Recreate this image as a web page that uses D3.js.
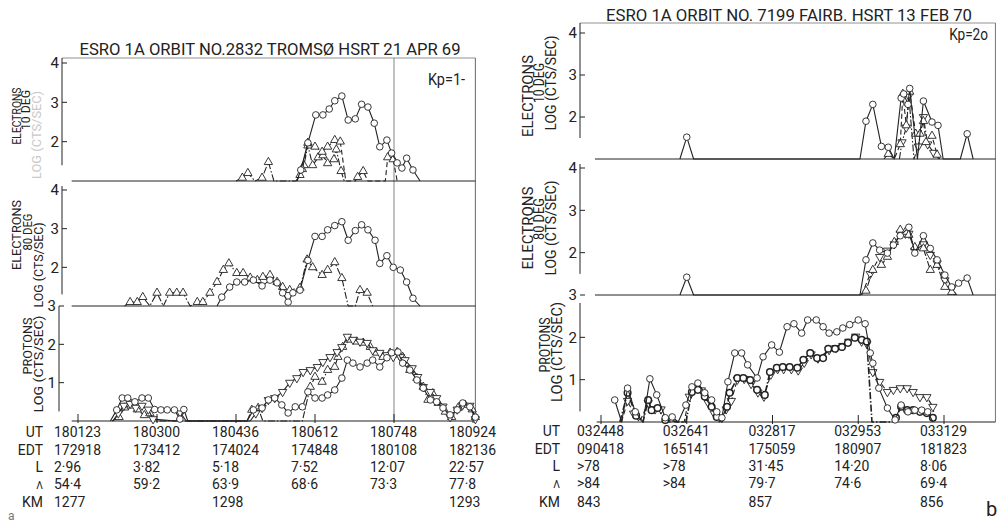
<!DOCTYPE html>
<html><head><meta charset="utf-8">
<script src="https://cdn.jsdelivr.net/npm/d3@7"></script>
<style>
body{margin:0;background:#fff}
svg{display:block}
text{font-family:Roboto,'DejaVu Sans',sans-serif;fill:#222}
</style></head>
<body><svg id="c" width="1002" height="525"></svg>
<script>
// ---------------- DATA (x in tick units along the UT axis, y in log10 counts/s) ----------------
// Panel a: ESRO 1A orbit 2832, Tromsø, 21 Apr 69
const utA  = ["180123","180300","180436","180612","180748","180924"];
const edtA = ["172918","173412","174024","174848","180108","182136"];
const lA   = ["2·96","3·82","5·18","7·52","12·07","22·57"];
const latA = ["54·4","59·2","63·9","68·6","73·3","77·8"];
const kmA  = ["1277","","1298","","","1293"];

const e10A_circ = [[2.77,1],[2.82,1.28],[2.91,1.97],[3.01,2.68],[3.10,2.68],[3.18,2.83],[3.25,3.04],[3.34,3.16],[3.42,2.55],[3.51,2.58],[3.59,2.95],[3.67,2.88],[3.75,2.47],[3.82,1.87],[3.91,2.04],[3.97,1.71],[4.04,1.46],[4.10,1.33],[4.16,1.58],[4.24,1.28],[4.33,1]];
const e10A_tri  = [[2.77,1],[2.84,1.3],[2.91,1.97],[3.00,1.87],[3.09,1.74],[3.16,1.87],[3.25,2.04],[3.32,2.0],[3.39,1],[3.51,1],[3.54,1.1],[3.61,1.25],[3.67,1],[3.89,1],[3.92,1.6],[3.99,1.55],[4.04,1]];
const e10A_dd   = [[2.00,1],[2.08,1.08],[2.15,1.2],[2.24,1],[2.33,1.08],[2.41,1.48],[2.48,1],[2.76,1],[2.81,1.15],[2.86,1.4],[2.91,1.9],[2.97,1.4],[3.04,1.6],[3.10,1.65],[3.16,1.45],[3.24,1.55],[3.27,1.8],[3.33,1.25],[3.37,1]];

const e80A_circ = [[1.76,1],[1.82,1.23],[1.92,1.49],[2.01,1.62],[2.11,1.62],[2.22,1.67],[2.33,1.52],[2.43,1.67],[2.52,1.6],[2.59,1.34],[2.66,1.1],[2.72,1.34],[2.81,1.41],[2.91,2.18],[3.00,2.8],[3.09,2.8],[3.16,2.97],[3.25,3.08],[3.34,3.18],[3.42,2.7],[3.51,2.95],[3.59,3.1],[3.67,2.97],[3.76,2.7],[3.82,2.1],[3.91,2.3],[3.99,2.0],[4.08,1.93],[4.16,1.62],[4.24,1.2],[4.33,1]];
const e80A_tri  = [[0.59,1],[0.66,1.1],[0.75,1.1],[0.82,1.23],[0.91,1],[1.00,1.34],[1.08,1],[1.16,1.34],[1.25,1.34],[1.33,1.34],[1.42,1],[1.51,1.1],[1.58,1.1],[1.67,1.34],[1.76,1.62],[1.84,1.93],[1.91,2.1],[2.01,1.85],[2.09,1.85],[2.18,1.73],[2.27,1.67],[2.34,1.75],[2.43,1.8],[2.52,1.62],[2.59,1.49],[2.68,1.41],[2.81,1.47],[2.90,2.2],[2.97,2.0],[3.09,1.8],[3.16,1.93],[3.25,2.13],[3.34,1.72],[3.42,1],[3.51,1],[3.57,1.41],[3.66,1.34],[3.73,1]];

const pA_circ = [[0.41,0],[0.49,0.29],[0.56,0.6],[0.63,0.6],[0.72,0.5],[0.81,0.6],[0.89,0.6],[0.97,0.3],[1.05,0.29],[1.13,0.29],[1.22,0.29],[1.29,0.05],[1.34,0.3],[1.39,0],[2.14,0],[2.22,0.29],[2.33,0.34],[2.41,0.55],[2.49,0.6],[2.58,0.42],[2.66,0.21],[2.75,0.37],[2.84,0.37],[2.91,0.76],[3.00,0.6],[3.09,0.6],[3.16,0.68],[3.25,0.81],[3.34,1.12],[3.41,1.59],[3.48,1.51],[3.57,1.41],[3.66,1.51],[3.73,1.59],[3.82,1.41],[3.91,1.65],[3.97,1.78],[4.05,1.8],[4.11,1.51],[4.20,1.33],[4.29,1.07],[4.37,0.86],[4.46,0.55],[4.54,0.5],[4.62,0.34],[4.71,0.16],[4.80,0.29],[4.87,0.47],[4.96,0.37],[5.03,0.1]];
const pA_inv  = [[0.44,0],[0.51,0.2],[0.58,0.4],[0.66,0.45],[0.73,0.35],[0.81,0.4],[0.89,0.3],[0.95,0.05],[1.24,0],[1.30,0.2],[1.37,0],[2.18,0],[2.25,0.2],[2.33,0.34],[2.41,0.55],[2.49,0.6],[2.59,0.76],[2.68,1.0],[2.77,1.12],[2.85,1.28],[2.94,1.33],[3.03,1.41],[3.10,1.54],[3.19,1.67],[3.28,1.8],[3.34,1.93],[3.41,2.2],[3.48,2.12],[3.57,2.07],[3.66,2.04],[3.73,1.85],[3.82,1.78],[3.91,1.72],[3.99,1.67],[4.08,1.67],[4.14,1.59],[4.23,1.38],[4.30,1.15],[4.37,0.89],[4.46,0.76],[4.54,0.6],[4.62,0.38],[4.71,0.1],[4.80,0.3],[4.87,0.42],[4.96,0.4],[5.03,0.05]];
const pA_tri  = [[0.43,0],[0.52,0.1],[0.59,0.35],[0.67,0.4],[0.75,0.3],[0.84,0.15],[0.91,0.2],[0.96,0],[2.14,0],[2.20,0.29],[2.28,0.34],[2.34,0],[2.84,0],[2.94,0.89],[3.00,1.15],[3.09,1.02],[3.16,1.33],[3.25,1.41],[3.29,1.67],[3.35,1.93],[3.44,2.12],[3.53,2.07],[3.61,2.04],[3.70,1.93],[3.78,1.78],[3.86,1.67],[3.95,1.78],[4.04,1.8],[4.11,1.67],[4.20,1.33],[4.29,1.12],[4.37,0.89],[4.43,0.55],[4.49,0.72],[4.56,0.47],[4.65,0.24],[4.73,0.1],[4.81,0.34],[4.90,0.42],[4.99,0.3],[5.03,0.1]];

// Panel b: ESRO 1A orbit 7199, Fairbanks, 13 Feb 70
const utB  = ["032448","032641","032817","032953","033129"];
const edtB = ["090418","165141","175059","180907","181823"];
const lB   = [">78",">78","31·45","14·20","8·06"];
const latB = [">84",">84","79·7","74·6","69·4"];
const kmB  = ["843","","857","","856"];

const e10B_circ = [[0.92,1],[1.00,1.52],[1.08,1],[3.02,1],[3.09,1.9],[3.17,2.3],[3.27,1.3],[3.35,1.28],[3.42,1],[3.50,2.45],[3.53,2.55],[3.58,2.3],[3.60,2.68],[3.69,1],[3.76,2.38],[3.86,1.88],[3.93,1.8],[3.99,1],[4.19,1],[4.27,1.6],[4.34,1]];
const e10B_tri  = [[3.30,1],[3.35,1.12],[3.42,1],[3.49,1.35],[3.52,2.55],[3.56,1.8],[3.60,2.6],[3.67,1.6],[3.72,1.6],[3.76,1.9],[3.79,1.4],[3.86,1.55],[3.92,1.1],[3.95,1]];
const e10B_inv  = [[3.48,1],[3.51,1.4],[3.56,1.75],[3.59,2.5],[3.65,1],[3.70,1.3],[3.76,2.0],[3.81,1.35],[3.88,1.15],[3.94,1]];

const e80B_circ = [[0.92,1],[1.00,1.42],[1.08,1],[3.02,1],[3.09,1.83],[3.17,2.23],[3.25,2.06],[3.34,1.99],[3.41,2.18],[3.49,2.4],[3.59,2.6],[3.66,1.99],[3.76,2.4],[3.84,2.1],[3.92,1.83],[4.01,1.47],[4.09,1.19],[4.17,1.28],[4.27,1.4],[4.34,1]];
const e80B_tri  = [[3.02,1],[3.09,1.1],[3.17,1.59],[3.27,1.71],[3.34,1.9],[3.42,2.25],[3.49,2.54],[3.55,2.49],[3.59,2.42],[3.66,2.13],[3.76,2.1],[3.84,1.59],[3.92,1.71],[4.01,1.19],[4.09,1.07],[4.13,1]];
const e80B_inv  = [[3.04,1],[3.14,1.5],[3.25,1.9],[3.34,2.05],[3.42,2.2],[3.49,2.45],[3.55,2.45],[3.59,2.45],[3.66,2.05],[3.76,2.2],[3.84,1.95],[3.92,1.75],[4.01,1.35],[4.09,1.15],[4.15,1]];

const pB_circ = [[0.16,0.52],[0.24,0],[0.31,0.8],[0.40,0.24],[0.49,0],[0.57,1.02],[0.65,0.64],[0.75,0.1],[0.83,0.12],[0.90,0],[0.99,0.4],[1.06,0.83],[1.13,0.92],[1.21,0.69],[1.29,0.52],[1.35,0.24],[1.41,0.1],[1.48,0.95],[1.56,1.63],[1.64,1.63],[1.71,1.35],[1.82,1.04],[1.89,1.54],[1.99,1.82],[2.08,1.65],[2.17,2.25],[2.25,2.32],[2.34,2.1],[2.41,2.41],[2.51,2.41],[2.59,2.25],[2.66,2.1],[2.75,2.13],[2.82,2.22],[2.90,2.3],[3.00,2.41],[3.08,2.32],[3.14,1.63],[3.17,1.39],[3.24,0.8],[3.34,0.33],[3.43,0.05],[3.50,0.4],[3.58,0.24],[3.66,0.28],[3.74,0.28],[3.81,0.24],[3.87,0]];
const pB_dd   = [[0.22,0],[0.31,0.69],[0.41,0.15],[0.49,0],[0.55,0.52],[0.59,0.28],[0.66,0.33],[0.75,0.05],[0.92,0],[0.99,0],[1.06,0.71],[1.13,0.76],[1.21,0.6],[1.29,0.36],[1.35,0.12],[1.41,0],[1.47,0.36],[1.50,0.69],[1.59,1.04],[1.66,1.04],[1.74,0.99],[1.82,0.76],[1.91,0.64],[1.97,1.18],[2.05,1.28],[2.12,1.3],[2.20,1.3],[2.29,1.28],[2.36,1.47],[2.44,1.63],[2.52,1.51],[2.59,1.51],[2.65,1.73],[2.73,1.73],[2.81,1.77],[2.88,1.87],[2.96,1.99],[3.04,1.94],[3.10,1.9],[3.16,0],[3.41,0],[3.44,0.1],[3.50,0.36],[3.57,0.28],[3.64,0.28],[3.72,0.24],[3.80,0.21],[3.87,0.1],[3.92,0]];
const pB_inv  = [[0.24,0],[0.31,0.5],[0.38,0.2],[0.45,0],[0.55,0.45],[0.63,0.3],[0.70,0.3],[0.77,0],[0.97,0],[1.03,0.6],[1.10,0.8],[1.17,0.75],[1.25,0.45],[1.32,0.2],[1.38,0],[1.46,0.3],[1.52,0.5],[1.59,1.0],[1.67,1.02],[1.75,0.9],[1.83,0.7],[1.90,0.6],[1.98,1.12],[2.06,1.25],[2.13,1.25],[2.22,1.25],[2.30,1.22],[2.37,1.4],[2.45,1.6],[2.53,1.5],[2.66,1.7],[2.74,1.75],[2.82,1.8],[2.89,1.9],[2.97,2.02],[3.04,1.9],[3.10,1.85],[3.17,1.18],[3.25,0.95],[3.34,0.71],[3.41,0.76],[3.49,0.8],[3.57,0.8],[3.64,0.71],[3.72,0.59],[3.80,0.59],[3.87,0.36],[3.90,0]];

// ---------------- DRAWING ----------------
const INK = "#222";
const svg = d3.select("#c");

function label(x, y, str, o = {}) {
  const size = o.size || 17, sx = o.sx || 0.84;
  let tr = `translate(${x},${y})`;
  if (o.rotate) tr += ` rotate(${o.rotate})`;
  if (!o.len) tr += ` scale(${sx},1)`;
  const t = svg.append("text").attr("transform", tr)
    .attr("text-anchor", o.anchor || "start")
    .attr("font-size", size).style("fill", o.fill || INK)
    .attr("font-family", o.family || null)
    .attr("dominant-baseline", o.baseline || null)
    .text(str);
  if (o.len) t.attr("textLength", o.len).attr("lengthAdjust", "spacingAndGlyphs");
  return t;
}
function hline(x1, x2, y, w = 1, c = INK) {
  svg.append("line").attr("x1", x1).attr("x2", x2).attr("y1", y).attr("y2", y).attr("stroke", c).attr("stroke-width", w);
}
function vline(x, y1, y2, w = 1, c = INK) {
  svg.append("line").attr("x1", x).attr("x2", x).attr("y1", y1).attr("y2", y2).attr("stroke", c).attr("stroke-width", w);
}
function series(data, x, y, st, base) {
  const g = svg.append("g");
  g.append("path").attr("d", d3.line().x(d => x(d[0])).y(d => y(d[1]))(data))
    .attr("fill", "none").attr("stroke", INK).attr("stroke-width", st.w || 1.1)
    .attr("stroke-dasharray", st.dash || null).attr("stroke-linejoin", "round");
  const pts = data.filter(d => d[1] > base + 0.001);
  const mw = st.mw || 0.9;
  if (st.m === "circle") {
    g.selectAll(null).data(pts).join("circle")
      .attr("cx", d => x(d[0])).attr("cy", d => y(d[1])).attr("r", 3.3)
      .attr("fill", "#fff").attr("stroke", INK).attr("stroke-width", mw);
  } else {
    const sym = d3.symbol().type(d3.symbolTriangle).size(30);
    g.selectAll(null).data(pts).join("path")
      .attr("transform", d => `translate(${x(d[0])},${y(d[1])})${st.m === "down" ? " rotate(180)" : ""}`)
      .attr("d", sym).attr("fill", "#fff").attr("stroke", INK).attr("stroke-width", mw);
  }
}
function yAxis(y, ax, ticks, labX) {
  const g = svg.append("g");
  ticks.forEach(v => {
    hline(ax, ax + 5, y(v), 1);
    g.append("text").attr("x", labX).attr("y", y(v)).attr("dy", "0.36em")
      .attr("text-anchor", "end").attr("font-size", 15).text(v);
  });
}

const DASH = "5,3", DOTDASH = "7,2,1.5,2";
const TS = 15, TSX = 0.93;   // table text size / horizontal squeeze

// ===== Panel a =====
const xA = d3.scaleLinear().domain([0, 5]).range([78, 473]);
const yA1 = d3.scaleLinear().domain([1, 4]).range([181, 63]);
const yA2 = d3.scaleLinear().domain([1, 4]).range([306, 190]);
const yA3 = d3.scaleLinear().domain([0, 3]).range([421, 306]);
const aL = xA(-0.08), aR = xA(5.03);

label(270, 55, "ESRO 1A ORBIT NO.2832 TROMSØ HSRT 21 APR 69", {anchor: "middle", size: 17, len: 381});
hline(62, aR, 58, 0.8, "#777");
vline(aR, 58, yA3(0), 0.9, "#555");
vline(xA(4), 58, yA3(0), 0.8, "#666");
label(465, 85, "Kp=1-", {anchor: "end", size: 17, sx: 0.85});

vline(62, 58, yA1(1.4), 1); yAxis(yA1, 62, [2, 3, 4], 59);
vline(62, 186, yA2(1.3), 1); yAxis(yA2, 62, [2, 3, 4], 59);
vline(59, yA3(3), yA3(0.25), 1); yAxis(yA3, 59, [1, 2, 3], 56);
hline(aL, aR, yA1(1), 1); hline(aL, aR, yA2(1), 1); hline(aL, aR, yA3(0), 1.1);
d3.range(6).forEach(i => vline(xA(i), yA3(0) - 7, yA3(0) + 2, 1));

label(17, 116, "ELECTRONS", {rotate: -90, anchor: "middle", size: 12, len: 57, baseline: "central"});
label(26, 110, "10 DEG", {rotate: -90, anchor: "middle", size: 12, len: 40, baseline: "central"});
label(37, 135, "LOG (CTS/SEC)", {rotate: -90, anchor: "middle", size: 12, len: 88, baseline: "central", fill: "#c9c9c9"});
label(16, 235, "ELECTRONS", {rotate: -90, anchor: "middle", size: 13, len: 70, baseline: "central"});
label(27, 232, "80 DEG", {rotate: -90, anchor: "middle", size: 13, len: 37, baseline: "central"});
label(38, 265, "LOG (CTS/SEC)", {rotate: -90, anchor: "middle", size: 13, len: 85, baseline: "central"});
label(27, 346, "PROTONS", {rotate: -90, anchor: "middle", size: 13, len: 57, baseline: "central"});
label(38, 364, "LOG (CTS/SEC)", {rotate: -90, anchor: "middle", size: 13, len: 97, baseline: "central"});

series(e10A_dd, xA, yA1, {m: "up", dash: DOTDASH}, 1);
series(e10A_tri, xA, yA1, {m: "up", dash: DASH}, 1);
series(e10A_circ, xA, yA1, {m: "circle"}, 1);
series(e80A_tri, xA, yA2, {m: "up", dash: DOTDASH}, 1);
series(e80A_circ, xA, yA2, {m: "circle"}, 1);
series(pA_tri, xA, yA3, {m: "up", dash: DOTDASH}, 0);
series(pA_inv, xA, yA3, {m: "down"}, 0);
series(pA_circ, xA, yA3, {m: "circle"}, 0);

const rowY = [437, 455, 472, 489, 507];
const rowNames = ["UT", "EDT", "L", "Λ", "KM"];
rowNames.forEach((n, r) => label(43, rowY[r], n, {anchor: "end", size: n === "Λ" ? 11 : TS, sx: TSX}));
[utA, edtA, lA, latA, kmA].forEach((row, r) => row.forEach((s, i) => { if (s) label(xA(i) - 24, rowY[r], s, {size: TS, sx: TSX}); }));
label(8, 520, "a", {size: 12, family: "'DejaVu Serif',serif", fill: "#777", sx: 1});

// ===== Panel b =====
const xB = d3.scaleLinear().domain([0, 4]).range([601, 944]);
const yB1 = d3.scaleLinear().domain([1, 4]).range([159, 33]);
const yB2 = d3.scaleLinear().domain([1, 4]).range([295, 168]);
const yB3 = d3.scaleLinear().domain([0, 3]).range([422, 295]);
const bL = xB(-0.07), bR = xB(4.6);

label(789, 21, "ESRO 1A ORBIT NO. 7199 FAIRB. HSRT 13 FEB 70", {anchor: "middle", size: 16, len: 366});
hline(580, bR, 23, 0.8, "#777");
vline(bR, 23, yB3(0), 0.9, "#666");
label(988, 40, "Kp=2o", {anchor: "end", size: 16, sx: 0.85});

vline(580, 23, yB1(1.5), 1); yAxis(yB1, 580, [2, 3, 4], 577);
vline(580, 164, yB2(1.5), 1); yAxis(yB2, 580, [2, 3, 4], 577);
vline(580, yB3(3) + 8, yB3(0.25), 1); yAxis(yB3, 580, [1, 2, 3], 577);
hline(bL, bR, yB1(1), 1); hline(bL, bR, yB2(1), 1); hline(xB(-0.05), bR, yB3(0), 1.1);
d3.range(5).forEach(i => vline(xB(i), yB3(0) - 7, yB3(0) + 2, 1));

label(528, 96, "ELECTRONS", {rotate: -90, anchor: "middle", size: 14, len: 82, baseline: "central"});
label(539, 83, "10 DEG", {rotate: -90, anchor: "middle", size: 14, len: 40, baseline: "central"});
label(551, 83, "LOG (CTS/SEC)", {rotate: -90, anchor: "middle", size: 14, len: 95, baseline: "central"});
label(528, 228, "ELECTRONS", {rotate: -90, anchor: "middle", size: 14, len: 83, baseline: "central"});
label(539, 219, "80 DEG", {rotate: -90, anchor: "middle", size: 14, len: 42, baseline: "central"});
label(551, 228, "LOG (CTS/SEC)", {rotate: -90, anchor: "middle", size: 14, len: 95, baseline: "central"});
label(545, 345, "PROTONS", {rotate: -90, anchor: "middle", size: 14, len: 55, baseline: "central"});
label(557, 352, "LOG (CTS/SEC)", {rotate: -90, anchor: "middle", size: 14, len: 100, baseline: "central"});

series(e10B_inv, xB, yB1, {m: "down", dash: DOTDASH}, 1);
series(e10B_tri, xB, yB1, {m: "up", dash: DASH}, 1);
series(e10B_circ, xB, yB1, {m: "circle"}, 1);
series(e80B_inv, xB, yB2, {m: "down", dash: DASH}, 1);
series(e80B_tri, xB, yB2, {m: "up", dash: DOTDASH}, 1);
series(e80B_circ, xB, yB2, {m: "circle"}, 1);
series(pB_inv, xB, yB3, {m: "down", dash: DASH}, 0);
series(pB_dd, xB, yB3, {m: "circle", dash: DOTDASH, w: 1.6, mw: 1.5}, 0);
series(pB_circ, xB, yB3, {m: "circle"}, 0);

const rowYB = [436, 454, 471, 488, 507];
rowNames.forEach((n, r) => label(560, rowYB[r], n, {anchor: "end", size: n === "Λ" ? 11 : TS, sx: TSX}));
[utB, edtB, lB, latB, kmB].forEach((row, r) => row.forEach((s, i) => { if (s) label(xB(i) - 24, rowYB[r], s, {size: TS, sx: TSX}); }));
label(986, 516, "b", {size: 20, family: "'DejaVu Serif',serif", sx: 1});
</script>
</body></html>
